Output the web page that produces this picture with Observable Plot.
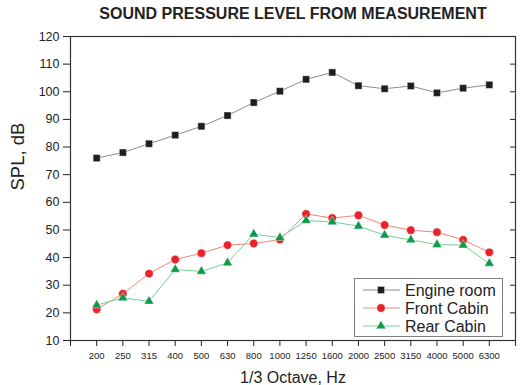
<!DOCTYPE html>
<html><head><meta charset="utf-8">
<script src="https://cdn.jsdelivr.net/npm/d3@7"></script>
<script src="https://cdn.jsdelivr.net/npm/@observablehq/plot@0.6"></script>
<style>
body{margin:0;background:#fff;}
#chart{position:relative;width:523px;height:385px;font-family:"Liberation Sans",Arial,sans-serif;color:#222;}
#legend{position:absolute;left:354px;top:278px;width:149px;height:59px;box-sizing:border-box;border:1px solid #808080;background:#fff;}
</style>
</head><body><div id="chart"></div>
<script>
const bands = ["200","250","315","400","500","630","800","1000","1250","1600","2000","2500","3150","4000","5000","6300"];
const engineRoom = [76, 78, 81.2, 84.3, 87.5, 91.4, 96.1, 100.2, 104.5, 107, 102.2, 101.1, 102.1, 99.6, 101.3, 102.5];
const frontCabin = [21.3, 26.9, 34.2, 39.3, 41.6, 44.5, 45.1, 46.5, 55.8, 54.3, 55.3, 51.8, 49.9, 49.2, 46.4, 41.9];
const rearCabin = [22.8, 25.4, 24.2, 35.7, 35.0, 38.1, 48.5, 47.2, 53.4, 52.9, 51.4, 48.1, 46.4, 44.7, 44.5, 37.9];
const yTicks = [10, 20, 30, 40, 50, 60, 70, 80, 90, 100, 110, 120];
const seriesNames = ["Engine room", "Front Cabin", "Rear Cabin"];
const lineColors = ["#8c8c8c", "#f28a6e", "#78cf95"];
const markerColors = ["#1e1e1e", "#e8232b", "#0f9a4b"];
const markerSymbols = ["square", "circle", "triangle"];
const markerRadii = [4, 4.2, 3.6];
const title = "SOUND PRESSURE LEVEL FROM MEASUREMENT";
const xLabel = "1/3 Octave, Hz";
const yLabel = "SPL, dB";

const seriesValues = [engineRoom, frontCabin, rearCabin];
const tables = seriesValues.map((vals, s) => vals.map((v, i) => ({i, band: bands[i], spl: v, series: seriesNames[s]})));

const lineMarks = tables.map((t, s) => Plot.line(t, {x: "i", y: "spl", stroke: lineColors[s], strokeWidth: 1}));
const dotMarks = tables.map((t, s) => Plot.dot(t, {x: "i", y: "spl", symbol: markerSymbols[s], r: markerRadii[s], fill: markerColors[s], stroke: "#fff", strokeWidth: 0.4}));

const plot = Plot.plot({
  width: 523, height: 385,
  marginTop: 36, marginBottom: 45, marginLeft: 70, marginRight: 8,
  style: {fontFamily: '"Liberation Sans", Arial, sans-serif', fontSize: "13px", color: "#222", background: "#fff"},
  x: {type: "linear", domain: [-1, 16], axis: null},
  y: {domain: [10, 120], axis: null},
  marks: [
    Plot.axisX({ticks: d3.range(-1, 17), tickSize: 6, tickPadding: 6, tickFormat: i => bands[i] ?? "", fontSize: 9.5, label: null}),
    Plot.axisY({ticks: yTicks, tickSize: 7, tickPadding: 4, fontSize: 12.5, label: null}),
    Plot.axisY({anchor: "right", ticks: yTicks, tickSize: 6, dx: -6, tickFormat: () => "", label: null}),
    Plot.frame({stroke: "#333", strokeWidth: 1.2}),
    ...lineMarks,
    ...dotMarks,
    Plot.text([title], {frameAnchor: "top", lineAnchor: "top", dy: -29, fontSize: 16, fontWeight: "bold"}),
    Plot.text([xLabel], {frameAnchor: "bottom", lineAnchor: "bottom", dy: 42, fontSize: 16}),
    Plot.text([yLabel], {frameAnchor: "left", rotate: -90, dx: -52, dy: 2, fontSize: 18.5})
  ]
});
const chart = document.getElementById("chart");
chart.appendChild(plot);

// legend
const legend = document.createElement("div");
legend.id = "legend";
chart.appendChild(legend);
const lsvg = d3.select(legend).append("svg").attr("width", 147).attr("height", 57).style("display", "block");
const symbolMap = {square: d3.symbolSquare, circle: d3.symbolCircle, triangle: d3.symbolTriangle};
seriesNames.forEach((name, s) => {
  const cy = 11 + s * 18;
  const g = lsvg.append("g").attr("transform", `translate(0,${cy})`);
  g.append("line").attr("x1", 8).attr("x2", 45).attr("y1", 0).attr("y2", 0).attr("stroke", lineColors[s]).attr("stroke-width", 1);
  const r = markerRadii[s];
  g.append("path").attr("transform", "translate(26,0)")
    .attr("d", d3.symbol(symbolMap[markerSymbols[s]], Math.PI * r * r)())
    .attr("fill", markerColors[s]).attr("stroke", "#fff").attr("stroke-width", 0.4);
  g.append("text").attr("x", 50).attr("y", 0).attr("dy", "0.36em")
    .attr("font-family", '"Liberation Sans", Arial, sans-serif').attr("font-size", 16).attr("fill", "#222").text(name);
});
</script>
</body></html>
